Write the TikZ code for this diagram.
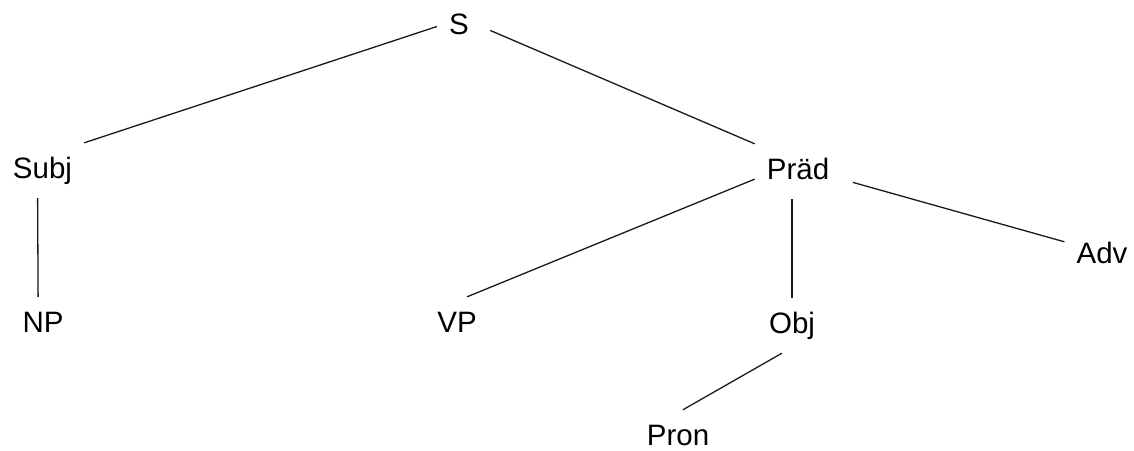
\documentclass[tikz,border=0pt]{standalone}
\usepackage{fontspec}
\setmainfont{Liberation Sans}
\begin{document}
\begin{tikzpicture}[x=1pt,y=-1pt,
  lbl/.style={anchor=base,inner xsep=12pt,inner ysep=14pt,text height=21pt,text depth=6pt,
    font=\fontsize{29.5}{35}\selectfont},
  edge/.style={draw=black!90,line width=1.3pt}]
\useasboundingbox (0,0) rectangle (1134,450);
\node[lbl] (S) at (459,34) {S};
\node[lbl] (Subj) at (42.5,178) {Subj};
\node[lbl] (Praed) at (798,179) {Präd};
\node[lbl] (NP) at (43,332) {NP};
\node[lbl] (VP) at (457,332) {VP};
\node[lbl] (Obj) at (792,333) {Obj};
\node[lbl] (Adv) at (1102,263) {Adv};
\node[lbl] (Pron) at (678,445) {Pron};
\path[edge] (S.west) -- (Subj.north east);
\path[edge,shorten <=10pt] (S.east) -- (Praed.north west);
\path[edge] (Subj.-100) -- (NP.100);
\path[edge] (Praed.190) -- (VP.70);
\path[edge] (Obj.north |- Praed.south) -- (Obj.north);
\path[edge,shorten <=12pt] (Praed.-10) -- (Adv.160);
\path[edge] (Obj.250) -- (Pron.80);
\end{tikzpicture}
\end{document}
